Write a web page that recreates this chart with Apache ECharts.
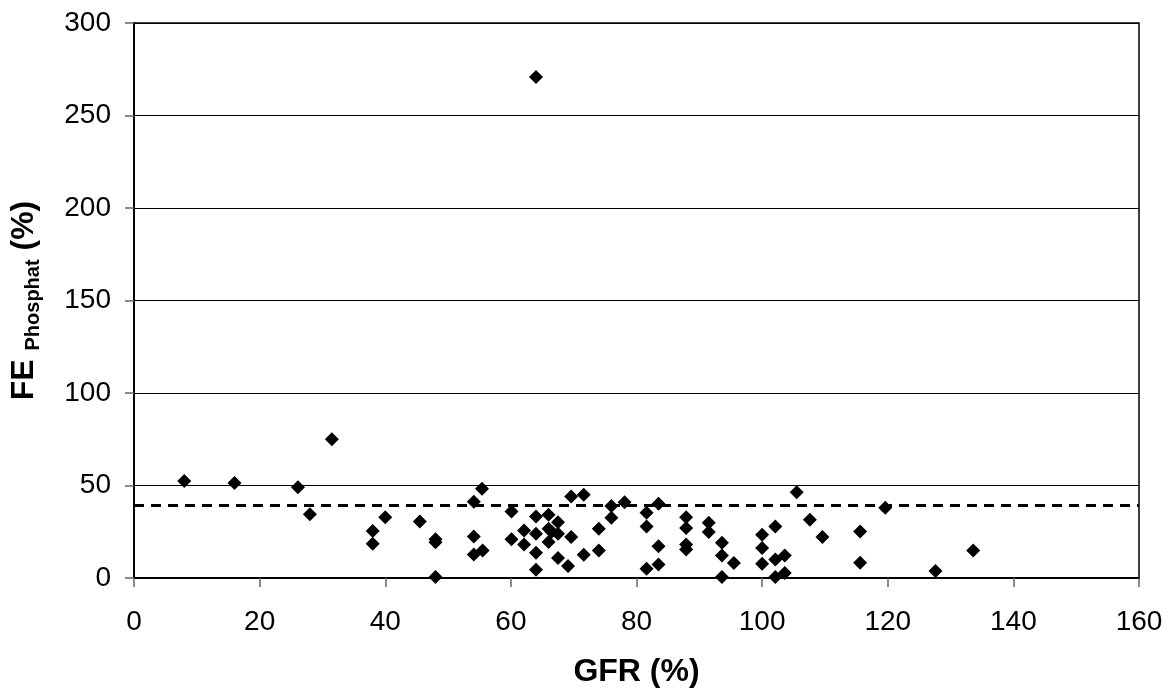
<!DOCTYPE html>
<html>
<head>
<meta charset="utf-8">
<script src="https://cdn.jsdelivr.net/npm/echarts@6/dist/echarts.min.js"></script>
<style>html,body{margin:0;padding:0;background:#fff;}#c{width:1174px;height:693px;}</style>
</head>
<body>
<div id="c"></div>
<script>
var gfr = [8, 16, 26.1, 28, 31.5, 38, 38, 40, 45.5, 48, 48, 48, 54.1, 54.1, 54.1, 55.4, 55.5,
  60.1, 60.1, 62.1, 62.1, 64, 64, 64, 64, 64, 66, 66, 66.5, 66, 67.5, 67.5, 67.5, 69.1, 69.6, 69.6,
  71.6, 71.6, 74, 74, 76, 76, 78.1, 81.6, 81.6, 81.6, 83.5, 83.5, 83.5, 87.9, 87.9, 87.9, 87.9,
  91.5, 91.5, 93.6, 93.6, 93.6, 95.5, 100, 100, 100, 102.1, 102.1, 102.1, 103.6, 103.6, 105.5,
  107.6, 109.6, 115.6, 115.6, 119.6, 127.6, 133.6];
var fePhosphat = [52.5, 51.3, 49.1, 34.5, 75, 25.4, 18.5, 32.9, 30.6, 21, 19.3, 0.5, 41.2, 22.4, 12.7, 48.2, 14.9,
  36, 20.9, 25.7, 18.1, 33.3, 23.9, 13.7, 4.5, 270.8, 34.2, 26.6, 25, 19.4, 30.2, 23.9, 10.8, 6.5, 22.1, 44.1,
  45, 12.6, 26.6, 14.9, 38.9, 32.6, 41, 35.3, 27.9, 5, 40.1, 17.1, 7.3, 32.9, 27, 18.1, 15.4,
  29.9, 24.8, 19.1, 12.2, 0.5, 8.1, 23.4, 16.2, 7.7, 27.9, 10, 0.5, 12.2, 2.7, 46.4,
  31.5, 22.1, 25.2, 8.3, 38, 3.8, 14.9];
var referenceLine = 39.4;
var xTicks = {min: 0, max: 160, interval: 20};
var yTicks = {min: 0, max: 300, interval: 50};

var points = gfr.map(function (x, i) { return [x, fePhosphat[i]]; });
var font = '"Liberation Sans", Arial, sans-serif';
var chart = echarts.init(document.getElementById('c'), null, {renderer: 'canvas'});
chart.setOption({
  animation: false,
  backgroundColor: '#fff',
  grid: {left: 134, right: 35, top: 23, bottom: 114, show: true, borderColor: '#000', borderWidth: 1.5, containLabel: false},
  xAxis: {
    type: 'value', min: xTicks.min, max: xTicks.max, interval: xTicks.interval,
    name: 'GFR (%)', nameLocation: 'middle', nameGap: 78,
    nameTextStyle: {fontFamily: font, fontSize: 32, fontWeight: 'bold', color: '#000'},
    axisLine: {show: true, onZero: false, lineStyle: {color: '#000', width: 2}},
    axisTick: {show: true, length: 9, lineStyle: {color: '#666', width: 1.5}},
    axisLabel: {fontFamily: font, fontSize: 28, color: '#000', margin: 30},
    splitLine: {show: false}
  },
  yAxis: {
    type: 'value', min: yTicks.min, max: yTicks.max, interval: yTicks.interval,
    name: '{a|FE }{b|Phosphat}{a| (%)}', nameLocation: 'middle', nameGap: 91, nameRotate: 90,
    nameTextStyle: {
      fontFamily: font, color: '#000',
      rich: {
        a: {fontFamily: font, fontSize: 32, fontWeight: 'bold', lineHeight: 38, verticalAlign: 'middle', color: '#000'},
        b: {fontFamily: font, fontSize: 20, fontWeight: 'bold', lineHeight: 20, verticalAlign: 'bottom', color: '#000'}
      }
    },
    axisLine: {show: true, lineStyle: {color: '#000', width: 2}},
    axisTick: {show: true, length: 9, lineStyle: {color: '#666', width: 1.5}},
    axisLabel: {fontFamily: font, fontSize: 28, color: '#000', margin: 23},
    splitLine: {show: true, lineStyle: {color: '#000', width: 1.2}}
  },
  series: [{
    type: 'scatter',
    data: points,
    symbol: 'diamond',
    symbolSize: [14, 14],
    itemStyle: {color: '#000', opacity: 1},
    z: 5,
    markLine: {
      silent: true,
      symbol: ['none', 'none'],
      label: {show: false},
      lineStyle: {color: '#000', width: 3, type: [10, 7], opacity: 1},
      data: [{yAxis: referenceLine}]
    }
  }]
});
</script>
</body>
</html>
